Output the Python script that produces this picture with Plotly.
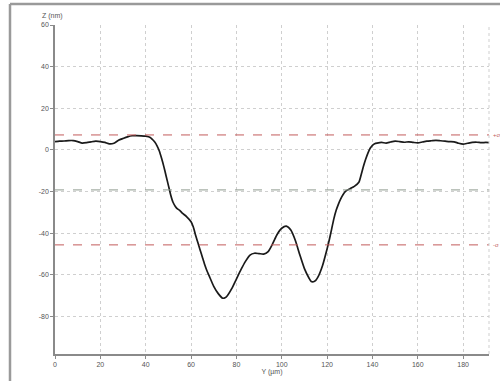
import plotly.graph_objects as go

# Surface profile: lateral position Y (µm) vs height Z (nm)
y_um = [0, 2, 4, 6, 8, 10, 12, 14, 16, 18, 20, 22, 24, 26, 28, 30, 32, 34, 36, 38,
        40, 42, 43, 44, 45, 46, 47, 48, 49, 50, 51, 52, 53, 54, 55, 56, 58, 60, 61, 62,
        63, 64, 65, 66, 67, 68, 70, 72, 74, 75, 76, 78, 80, 82, 84, 86, 88, 90, 92, 94,
        96, 98, 100, 102, 104, 106, 108, 110, 112, 113, 114, 115, 116, 118, 120, 121, 122,
        123, 124, 125, 126, 127, 128, 130, 132, 134, 135, 136, 137, 138, 139, 140, 141,
        142, 144, 146, 148, 150, 152, 154, 156, 158, 160, 162, 164, 166, 168, 170, 172,
        174, 176, 178, 180, 182, 184, 186, 188, 190, 191.4]
z_nm = [4.0, 4.2, 4.3, 4.5, 4.5, 4.0, 3.3, 3.5, 3.9, 4.2, 4.0, 3.6, 2.9, 3.2, 4.6, 5.5,
        6.3, 6.8, 6.9, 6.8, 6.6, 6.0, 5.0, 3.8, 2.0, -0.5, -4.0, -8.0, -12.5, -17.0, -21.5,
        -25.0, -27.0, -28.3, -29.0, -30.2, -32.0, -34.5, -37.0, -41.0, -44.5, -48.0, -51.5,
        -55.0, -58.0, -60.5, -65.5, -69.0, -71.2, -71.0, -70.0, -66.5, -62.0, -57.5, -53.5,
        -50.5, -49.6, -49.8, -50.0, -48.8, -45.0, -40.5, -37.6, -36.6, -38.5, -43.5, -50.5,
        -57.0, -61.5, -63.2, -63.3, -62.6, -61.0, -55.5, -47.5, -43.0, -38.0, -33.0, -29.0,
        -26.0, -23.5, -21.5, -20.0, -18.7, -17.5, -15.5, -12.0, -8.0, -4.5, -1.5, 0.8, 2.2,
        3.0, 3.3, 3.6, 3.3, 3.8, 4.2, 4.0, 3.7, 3.9, 3.6, 3.4, 3.8, 4.2, 4.4, 4.6, 4.4, 4.2,
        4.0, 3.9, 3.2, 2.8, 3.2, 3.6, 3.7, 3.5, 3.6, 3.5]

# Reference levels: mean height and the ± band around it
mean_level = -19.2
band_upper = 7.2
band_lower = -45.6
band_labels = ["+σ", "-σ"]

x_ticks = [0, 20, 40, 60, 80, 100, 120, 140, 160, 180]
y_ticks = [60, 40, 20, 0, -20, -40, -60, -80]

X_MIN, X_MAX = 0, 191.4
Z_MIN, Z_MAX = -98, 60

GRID = "#cfcfcf"
AXIS = "#8a8a8a"
BAND = "#c25c5c"

fig = go.Figure()

fig.add_trace(go.Scatter(
    x=y_um, y=z_nm, mode="lines",
    line=dict(color="#1a1a1a", width=1.7, shape="spline", smoothing=0.6),
    hoverinfo="skip", showlegend=False,
))

# Horizontal reference lines
fig.add_hline(y=band_upper, line=dict(color=BAND, width=1, dash="dash"))
fig.add_hline(y=band_lower, line=dict(color=BAND, width=1, dash="dash"))
fig.add_hline(y=mean_level, line=dict(color="#8f9a8f", width=1, dash="dash"))

label_font = dict(family="Liberation Sans, Arial, sans-serif", size=6, color=BAND)
for val, txt in zip([band_upper, band_lower], band_labels):
    fig.add_annotation(x=1.0, xref="paper", xanchor="left", xshift=2,
                       y=val, yref="y", text=txt, showarrow=False, font=label_font)

axis_font = dict(family="Liberation Sans, Arial, sans-serif", size=7, color="#555555")

common = dict(
    showgrid=True, gridcolor=GRID, griddash="dot", gridwidth=1,
    showline=True, linecolor=AXIS, linewidth=1.5,
    ticks="outside", ticklen=3, tickcolor=AXIS,
    tickfont=axis_font, zeroline=False,
)
fig.update_xaxes(range=[X_MIN, X_MAX], tickvals=x_ticks,
                 ticktext=[str(v) for v in x_ticks],
                 title=dict(text="Y (µm)", font=axis_font, standoff=2), **common)
fig.update_yaxes(range=[Z_MIN, Z_MAX], tickvals=y_ticks,
                 ticktext=[str(v) for v in y_ticks], **common)

# Right edge of the plot region drawn dotted like the grid
fig.add_shape(type="line", xref="paper", yref="paper", x0=1, x1=1, y0=0, y1=1,
              line=dict(color=GRID, width=1, dash="dot"))

# Window frame around the chart
frame_x = -0.1037
frame_y = 1.0638
fig.add_shape(type="line", xref="paper", yref="paper", x0=frame_x, x1=1.03,
              y0=frame_y, y1=frame_y, line=dict(color="#9a9a9a", width=2.5))
fig.add_shape(type="line", xref="paper", yref="paper", x0=frame_x, x1=frame_x,
              y0=frame_y, y1=-0.1, line=dict(color="#9a9a9a", width=2.5))

fig.add_annotation(x=-0.035, xref="paper", y=1.0, yref="paper", yanchor="bottom",
                   yshift=3, text="Z (nm)", showarrow=False, font=axis_font)

fig.update_layout(
    template="none",
    width=500, height=381,
    margin=dict(l=55, r=11, t=25, b=27),
    paper_bgcolor="white", plot_bgcolor="white",
    font=axis_font,
)

fig.write_html("out.html")
